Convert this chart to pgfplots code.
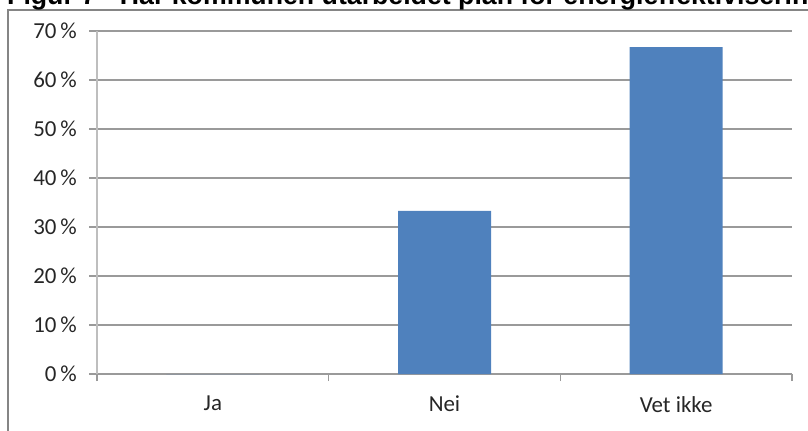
\documentclass[border=0pt]{standalone}
\usepackage{pgfplots}
\pgfplotsset{compat=1.18}
\usepackage{fontspec}
\setmainfont{Carlito}
\newfontfamily\titlefont{Liberation Sans}
\definecolor{barblue}{HTML}{4F81BD}
\definecolor{gridgray}{HTML}{9A9A9A}
\definecolor{framegray}{HTML}{858585}
\definecolor{yaxgray}{HTML}{BEBEBE}
\begin{document}
\begin{tikzpicture}[x=1bp,y=1bp]
\useasboundingbox (0,0) rectangle (808,430);
\clip (0,0) rectangle (808,430);
\draw[framegray, line width=1.6bp] (8,-2) -- (8,420) -- (812,420);
\node[anchor=base west, inner sep=0pt, font=\titlefont\bfseries\fontsize{26.8}{30}\selectfont] at (7,425) {Figur 7 - Har kommunen utarbeidet plan for energieffektivisering?};
\begin{axis}[
  at={(97bp,56bp)}, anchor=south west,
  scale only axis, width=695bp, height=343bp,
  xmin=-0.5, xmax=2.5, ymin=0, ymax=70,
  axis x line*=bottom, axis y line*=left,
  axis line style={-},
  x axis line style={draw=gridgray, line width=1.1bp},
  y axis line style={draw=yaxgray, line width=1.1bp},
  xtick={0,1,2}, xticklabels={Ja,Nei,Vet ikke},
  minor xtick={-0.5,0.5,1.5,2.5},
  ytick={0,10,...,70},
  yticklabels={0\,\%,10\,\%,20\,\%,30\,\%,40\,\%,50\,\%,60\,\%,70\,\%},
  tick align=outside,
  major tick length=8bp, minor tick length=7bp,
  every major x tick/.style={draw=none},
  every minor x tick/.style={draw=gridgray, line width=1.1bp},
  every major y tick/.style={draw=gridgray, line width=1.1bp},
  ymajorgrids, major grid style={draw=gridgray, line width=1.1bp},
  tick label style={font=\fontsize{23}{27}\selectfont, text=black!85},
  yticklabel style={inner sep=2bp, xshift=-10bp},
  xticklabel style={inner sep=2bp, yshift=-12bp},
  ybar, bar width=93bp,
]
\addplot[fill=barblue, draw=none] coordinates {(0,0) (1,33.3) (2,66.7)};
\end{axis}
\end{tikzpicture}
\end{document}
